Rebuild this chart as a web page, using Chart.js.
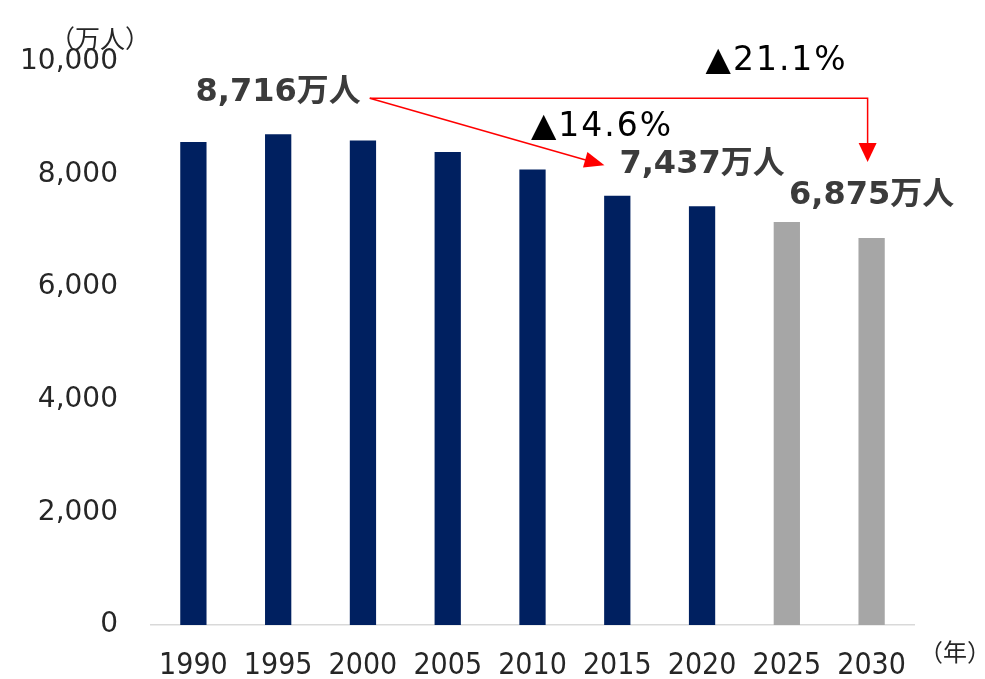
<!DOCTYPE html>
<html>
<head>
<meta charset="utf-8">
<script src="https://cdn.jsdelivr.net/npm/chart.js@4.4.1/dist/chart.umd.min.js"></script>
<style>
  body { margin: 0; background: #fff; }
  .wrap { width: 985px; height: 679px; position: relative; }
</style>
</head>
<body>
<div class="wrap"><canvas id="popChart"></canvas></div>
<script>
/* eslint-disable*/

const years = ['1990', '1995', '2000', '2005', '2010', '2015', '2020', '2025', '2030'];
const population = [8580, 8716, 8605, 8400, 8090, 7625, 7437, 7160, 6875];
const projectedYears = ['2025', '2030'];
const yTicks = [0, 2000, 4000, 6000, 8000, 10000];
const calloutYears = ['1995', '2020', '2030'];
const changeLabels = ['▲14.6%', '▲21.1%'];

const NAVY = '#002060';
const GREY = '#a6a6a6';
const RED = '#ff0000';

const fmt = (v) => v.toLocaleString('en-US');

function arrowHead(ctx, x, y, angle, len, half) {
  ctx.save();
  ctx.translate(x, y);
  ctx.rotate(angle);
  ctx.beginPath();
  ctx.moveTo(0, 0);
  ctx.lineTo(-len, -half);
  ctx.lineTo(-len, half);
  ctx.closePath();
  ctx.fill();
  ctx.restore();
}

const calloutPlugin = {
  id: 'callouts',
  afterDatasetsDraw(chart) {
    const ctx = chart.ctx;
    const meta = chart.getDatasetMeta(0);
    const bar = (yr) => meta.data[years.indexOf(yr)];

    ctx.save();
    ctx.font = 'bold 32px "DejaVu Sans", "Noto Sans CJK JP"';
    ctx.fillStyle = '#3b3b3b';
    ctx.textAlign = 'center';
    ctx.textBaseline = 'middle';
    const pos = calloutYears.map((yr) => {
      const b = bar(yr);
      const text = fmt(population[years.indexOf(yr)]) + '万人';
      const w = ctx.measureText(text).width;
      const y = b.y - 42;
      ctx.fillText(text, b.x, y);
      return { x: b.x, y: y, w: w };
    });

    // arrows
    const start = { x: pos[0].x + pos[0].w / 2 + 9, y: pos[0].y + 6 };
    ctx.strokeStyle = RED;
    ctx.fillStyle = RED;
    ctx.lineWidth = 1.5;

    const end1 = { x: pos[1].x - pos[1].w / 2 - 15, y: pos[1].y + 1 };
    const ang1 = Math.atan2(end1.y - start.y, end1.x - start.x);
    ctx.beginPath();
    ctx.moveTo(start.x, start.y);
    ctx.lineTo(end1.x - 14 * Math.cos(ang1), end1.y - 14 * Math.sin(ang1));
    ctx.stroke();
    arrowHead(ctx, end1.x, end1.y, ang1, 20, 8);

    const turnX = pos[2].x - 4;
    const end2y = pos[2].y - 34;
    ctx.beginPath();
    ctx.moveTo(start.x, start.y);
    ctx.lineTo(turnX, start.y);
    ctx.lineTo(turnX, end2y - 14);
    ctx.stroke();
    arrowHead(ctx, turnX, end2y, Math.PI / 2, 19, 9);

    // change percentages
    ctx.font = '33px "DejaVu Sans", "Noto Sans CJK JP"';
    ctx.letterSpacing = '2px';
    ctx.fillStyle = '#000';
    ctx.fillText(changeLabels[0], pos[1].x - 100, pos[1].y - 37);
    ctx.fillText(changeLabels[1], pos[2].x - 95, start.y - 37);
    ctx.letterSpacing = '0px';

    // unit labels
    ctx.font = '25px "Noto Sans CJK JP"';
    ctx.fillStyle = '#262626';
    ctx.fillText('（万人）', 100, 38);
    ctx.textAlign = 'left';
    ctx.font = '24px "Noto Sans CJK JP"';
    ctx.fillText('（年）', chart.chartArea.right + 5, 652);
    ctx.restore();
  },
};

const ctx = document.getElementById('popChart');

new Chart(ctx, {
  type: 'bar',
  data: {
    labels: years,
    datasets: [
      {
        data: population,
        backgroundColor: years.map((y) => (projectedYears.includes(y) ? GREY : NAVY)),
        barPercentage: 0.62,
        categoryPercentage: 0.5,
      },
    ],
  },
  options: {
    responsive: true,
    maintainAspectRatio: false,
    animation: false,
    layout: { padding: { top: 62, right: 71, left: 0, bottom: 0 } },
    plugins: {
      legend: { display: false },
      tooltip: { enabled: false },
    },
    scales: {
      x: {
        grid: { display: false, drawTicks: false },
        border: { display: true, color: '#d9d9d9', width: 1.5 },
        ticks: {
          color: '#262626',
          padding: 23,
          maxRotation: 0,
          autoSkip: false,
          font: { family: '"DejaVu Sans Condensed", "DejaVu Sans"', size: 30 },
        },
        afterFit(scale) {
          scale.height = 54;
        },
      },
      y: {
        min: 0,
        max: 10000,
        grid: { display: false, drawTicks: false },
        border: { display: false },
        afterBuildTicks(axis) {
          axis.ticks = yTicks.map((v) => ({ value: v }));
        },
        ticks: {
          color: '#262626',
          padding: 33,
          font: { family: '"DejaVu Sans"', size: 28 },
          callback: (v) => fmt(v),
        },
        afterFit(scale) {
          scale.width = 151;
        },
      },
    },
  },
  plugins: [calloutPlugin],
});
</script>
</body>
</html>
